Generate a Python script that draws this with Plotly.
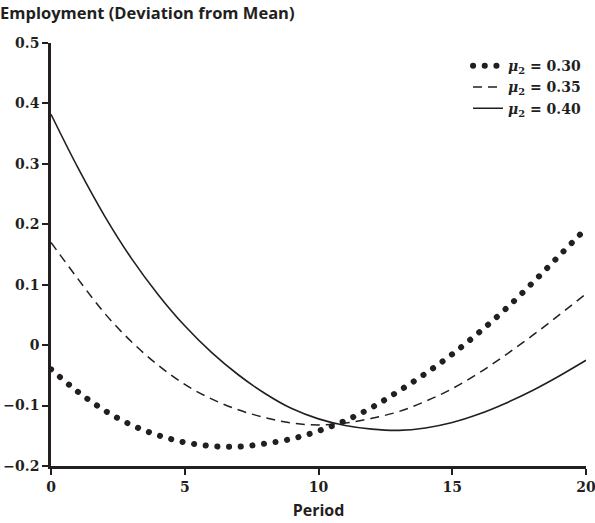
import plotly.graph_objects as go

periods = list(range(21))
mu_030 = [-0.040, -0.077, -0.108, -0.132, -0.149, -0.161, -0.167, -0.168, -0.163, -0.155,
          -0.142, -0.125, -0.103, -0.076, -0.047, -0.015, 0.021, 0.060, 0.103, 0.148, 0.193]
mu_035 = [0.170, 0.110, 0.053, 0.006, -0.033, -0.065, -0.089, -0.107, -0.120, -0.129,
          -0.132, -0.129, -0.121, -0.110, -0.093, -0.072, -0.046, -0.016, 0.016, 0.050, 0.085]
mu_040 = [0.382, 0.294, 0.214, 0.144, 0.084, 0.032, -0.012, -0.049, -0.080, -0.105,
          -0.122, -0.133, -0.139, -0.141, -0.137, -0.128, -0.114, -0.096, -0.075, -0.051, -0.025]
series_names = ["<i>μ</i><sub>2</sub> = 0.30", "<i>μ</i><sub>2</sub> = 0.35", "<i>μ</i><sub>2</sub> = 0.40"]
x_ticks = [0, 5, 10, 15, 20]
y_ticks = [-0.2, -0.1, 0, 0.1, 0.2, 0.3, 0.4, 0.5]
y_tick_text = ["−0.2", "−0.1", "0", "0.1", "0.2", "0.3", "0.4", "0.5"]

ink = "#231f20"
fig = go.Figure()
fig.add_trace(go.Scatter(x=periods, y=mu_030, mode="lines", name=series_names[0],
                         line=dict(color=ink, width=6, dash="0.1px,11.6px", shape="spline")))
fig.add_trace(go.Scatter(x=periods, y=mu_035, mode="lines", name=series_names[1],
                         line=dict(color=ink, width=1.5, dash="9px,6px", shape="spline")))
fig.add_trace(go.Scatter(x=periods, y=mu_040, mode="lines", name=series_names[2],
                         line=dict(color=ink, width=1.6, shape="spline")))

tick_font = dict(family="DejaVu Serif", size=14, color=ink, weight="bold")
fig.update_layout(
    width=595, height=523,
    margin=dict(l=51, r=9, t=43, b=57, autoexpand=False),
    paper_bgcolor="white", plot_bgcolor="white",
    showlegend=True,
    legend=dict(x=1.0, xanchor="right", y=0.983, yanchor="top", bgcolor="rgba(0,0,0,0)",
                font=dict(family="DejaVu Serif", size=14, color=ink, weight="bold"),
                tracegroupgap=0, itemwidth=30),
    title=dict(text="Employment (Deviation from Mean)", xref="container", x=0.0, xanchor="left",
               yref="container", y=0.975, yanchor="middle",
               font=dict(family="Open Sans", size=16.5, color=ink, weight="bold")),
    xaxis=dict(range=[0, 20], tickvals=x_ticks, ticks="outside", ticklen=6, tickwidth=2,
               tickcolor=ink, showline=True, linecolor=ink, linewidth=2.5, showgrid=False,
               zeroline=False, tickfont=tick_font, ticklabeloverflow="allow", automargin=False,
               title=dict(text="Period", font=dict(family="Open Sans", size=16, color=ink, weight="bold"),
                          standoff=12)),
    yaxis=dict(range=[-0.2, 0.5], tickvals=y_ticks, ticktext=y_tick_text, ticks="outside",
               ticklen=6, tickwidth=2, tickcolor=ink, showline=True, linecolor=ink, linewidth=2.5,
               showgrid=False, zeroline=False, tickfont=tick_font, ticklabeloverflow="allow",
               automargin=False),
)

post = """
function fixCaps(){
  document.querySelectorAll('path.js-line').forEach(function(p){
    var d = p.style.strokeDasharray || p.getAttribute('stroke-dasharray') || '';
    if (d.indexOf('0.1') === 0) { p.style.strokeLinecap = 'round'; }
  });
}
fixCaps();
var gd = document.getElementsByClassName('plotly-graph-div')[0];
if (gd && gd.on) { gd.on('plotly_afterplot', fixCaps); }
"""
fig.write_html("out.html", post_script=post)
